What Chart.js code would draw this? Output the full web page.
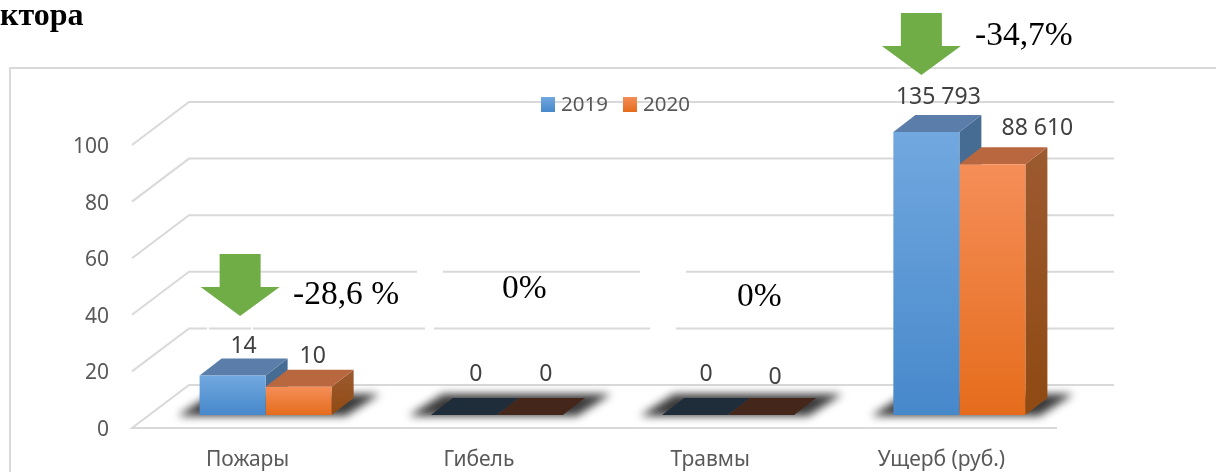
<!DOCTYPE html>
<html>
<head>
<meta charset="utf-8">
<style>
  html, body { margin: 0; padding: 0; background: #fff; }
  #wrap { width: 1216px; height: 472px; }
</style>
<script src="https://cdn.jsdelivr.net/npm/chart.js@4"></script>
</head>
<body>
<div id="wrap"><canvas id="chart" width="1216" height="472"></canvas></div>
<script>
const categories = ['Пожары', 'Гибель', 'Травмы', 'Ущерб (руб.)'];
const values2019 = [14, 0, 0, 135.793];
const values2020 = [10, 0, 0, 88.61];
const labels2019 = ['14', '0', '0', '135 793'];
const labels2020 = ['10', '0', '0', '88 610'];
const yTicks = [0, 20, 40, 60, 80, 100];

const LABEL_FONT = '"Noto Sans", sans-serif';
const SERIF = '"Liberation Serif", serif';
const GRID = '#d9d9d9';

// depth of the fake 3D box
const wallDx = 57, wallDy = -43;   // floor front edge -> back wall
const floorDx = 18, floorDy = -13; // floor front edge -> front of the bars
const barDx = 22, barDy = -17;     // front of a bar -> back of a bar

const faces = [
  { top: '#5a7ea9', side: ['#466c94', '#466c94'], flat: '#1f2d3b', front: ['#71a8df', '#4788cb'] },
  { top: '#b8673f', side: ['#9c5a30', '#8f4a12'], flat: '#45261a', front: ['#f58e58', '#e56c1c'] },
];

// nudges per label, the original sits them by hand
const labelShift = [
  [[11, -29], [12, -41], [11, -41], [12, -35]],
  [[14, -30], [16, -41], [14, -38], [45, -36]],
];

function quad(ctx, pts, fill) {
  ctx.beginPath();
  pts.forEach((p, i) => (i ? ctx.lineTo(p[0], p[1]) : ctx.moveTo(p[0], p[1])));
  ctx.closePath();
  ctx.fillStyle = fill;
  ctx.fill();
}

function arrow(ctx, x, y) {
  // x is the centre, y the top of the shaft
  ctx.beginPath();
  ctx.moveTo(x - 20.5, y);
  ctx.lineTo(x + 20.5, y);
  ctx.lineTo(x + 20.5, y + 33);
  ctx.lineTo(x + 39.5, y + 33);
  ctx.lineTo(x, y + 62);
  ctx.lineTo(x - 39.5, y + 33);
  ctx.lineTo(x - 20.5, y + 33);
  ctx.closePath();
  ctx.fillStyle = '#70ad47';
  ctx.fill();
}

const box3d = {
  id: 'box3d',
  beforeDatasetsDraw(chart) {
    const ctx = chart.ctx;
    const { left, right, top } = chart.chartArea;
    const y = chart.scales.y;

    ctx.save();
    // frame of the chart object
    ctx.strokeStyle = GRID;
    ctx.lineWidth = 2;
    ctx.beginPath();
    ctx.moveTo(10, 472);
    ctx.lineTo(10, 68);
    ctx.lineTo(1216, 68);
    ctx.stroke();

    // back wall and left wall lines
    yTicks.forEach((t) => {
      const py = y.getPixelForValue(t);
      ctx.beginPath();
      if (t === 0) {
        ctx.moveTo(right, py);
        ctx.lineTo(left, py);
      } else {
        ctx.moveTo(left, py);
      }
      ctx.lineTo(left + wallDx, py + wallDy);
      ctx.lineTo(right + wallDx, py + wallDy);
      ctx.stroke();
    });

    // white gaps left in the lines by the pasted shapes
    ctx.fillStyle = '#fff';
    [[417, 270, 26, 4], [425, 326, 9, 5], [640, 270, 46, 4], [650, 326, 26, 5], [207, 326, 2, 4], [251, 326, 2, 4]]
      .forEach((r) => ctx.fillRect(r[0], r[1], r[2], r[3]));

    // soft shadows on the floor
    const m0 = chart.getDatasetMeta(0).data;
    const m1 = chart.getDatasetMeta(1).data;
    m0.forEach((bar, i) => {
      const w = bar.width;
      const x0 = bar.x - w / 2 + floorDx;
      const x1 = m1[i].x + w / 2 + floorDx;
      const b = y.getPixelForValue(0) + floorDy;
      ctx.save();
      ctx.filter = 'blur(4px)';
      quad(ctx, [[x0 - 22, b + 1], [x1 + 14, b + 1], [x1 + 48, b - 21], [x0 + 12, b - 21]], '#3a3a3a');
      ctx.restore();
    });

    // top and side faces, the fronts are drawn by the bars themselves
    [m0, m1].forEach((meta, s) => {
      meta.forEach((bar) => {
        const x0 = bar.x - bar.width / 2 + floorDx;
        const x1 = bar.x + bar.width / 2 + floorDx;
        const b = bar.base + floorDy;
        const t = Math.max(bar.y, top) + floorDy;
        if (b - t < 1) {
          quad(ctx, [[x0, b], [x1, b], [x1 + barDx, b + barDy], [x0 + barDx, b + barDy]], faces[s].flat);
          return;
        }
        const g = ctx.createLinearGradient(0, t + barDy, 0, b);
        g.addColorStop(0, faces[s].side[0]);
        g.addColorStop(1, faces[s].side[1]);
        quad(ctx, [[x1, b], [x1 + barDx, b + barDy], [x1 + barDx, t + barDy], [x1, t]], g);
        quad(ctx, [[x0, t], [x1, t], [x1 + barDx, t + barDy], [x0 + barDx, t + barDy]], faces[s].top);
      });
    });

    ctx.translate(floorDx, floorDy);
  },
  afterDatasetsDraw(chart) {
    const ctx = chart.ctx;
    ctx.restore();

    ctx.save();
    // value labels
    ctx.font = '23px ' + LABEL_FONT;
    ctx.fillStyle = '#404040';
    ctx.textAlign = 'center';
    ctx.textBaseline = 'middle';
    [labels2019, labels2020].forEach((labels, s) => {
      chart.getDatasetMeta(s).data.forEach((bar, i) => {
        const t = Math.max(bar.y, chart.chartArea.top) + floorDy;
        ctx.fillText(labels[i], bar.x + floorDx + labelShift[s][i][0], t + labelShift[s][i][1]);
      });
    });

    // legend
    const lx = [541, 623];
    ctx.font = '20.5px ' + LABEL_FONT;
    chart.data.datasets.forEach((ds, s) => {
      const g = ctx.createLinearGradient(0, 97, 0, 112);
      g.addColorStop(0, faces[s].front[0]);
      g.addColorStop(1, faces[s].front[1]);
      ctx.fillStyle = g;
      ctx.fillRect(lx[s], 97, 14, 15);
      ctx.fillStyle = '#595959';
      ctx.textAlign = 'left';
      ctx.fillText(ds.label, lx[s] + 20, 105);
    });

    // change markers pasted over the chart
    const x = chart.scales.x;
    arrow(ctx, x.getPixelForValue(0) - 7.5, 254);
    arrow(ctx, x.getPixelForValue(3) - 20, 13);

    ctx.fillStyle = '#000';
    ctx.textBaseline = 'alphabetic';
    ctx.font = '33.5px ' + SERIF;
    ctx.fillText('-28,6 %', 293, 304);
    ctx.fillText('0%', 502, 298);
    ctx.fillText('0%', 737, 306);
    ctx.fillText('-34,7%', 975, 45);
    ctx.font = 'bold 32px ' + SERIF;
    ctx.fillText('ктора', 0, 25);
    ctx.restore();
  },
};

function frontGradient(series) {
  return (c) => {
    const chart = c.chart;
    if (!chart.chartArea || c.raw === undefined) return faces[series].front[0];
    const y = chart.scales.y;
    const top = Math.max(y.getPixelForValue(c.raw), chart.chartArea.top);
    const g = chart.ctx.createLinearGradient(0, top, 0, y.getPixelForValue(0));
    g.addColorStop(0, faces[series].front[0]);
    g.addColorStop(1, faces[series].front[1]);
    return g;
  };
}

new Chart(document.getElementById('chart'), {
  type: 'bar',
  data: {
    labels: categories,
    datasets: [
      { label: '2019', data: values2019, backgroundColor: frontGradient(0) },
      { label: '2020', data: values2020, backgroundColor: frontGradient(1) },
    ],
  },
  plugins: [box3d],
  options: {
    responsive: false,
    animation: false,
    categoryPercentage: 0.571,
    barPercentage: 1,
    layout: { padding: { left: 0, right: 159, top: 145, bottom: 0 } },
    plugins: { legend: { display: false }, tooltip: { enabled: false } },
    scales: {
      x: {
        grid: { display: false },
        border: { display: false },
        afterFit: (s) => { s.height = 44; },
        ticks: { color: '#595959', font: { family: LABEL_FONT, size: 21 }, padding: 11, maxRotation: 0 },
      },
      y: {
        min: 0,
        max: 100,
        grid: { display: false, drawTicks: false },
        border: { display: false },
        afterFit: (s) => { s.width = 132; },
        afterBuildTicks: (s) => { s.ticks = yTicks.map((v) => ({ value: v })); },
        ticks: { color: '#595959', font: { family: LABEL_FONT, size: 21 }, padding: 23, labelOffset: 2 },
      },
    },
  },
});
</script>
</body>
</html>
